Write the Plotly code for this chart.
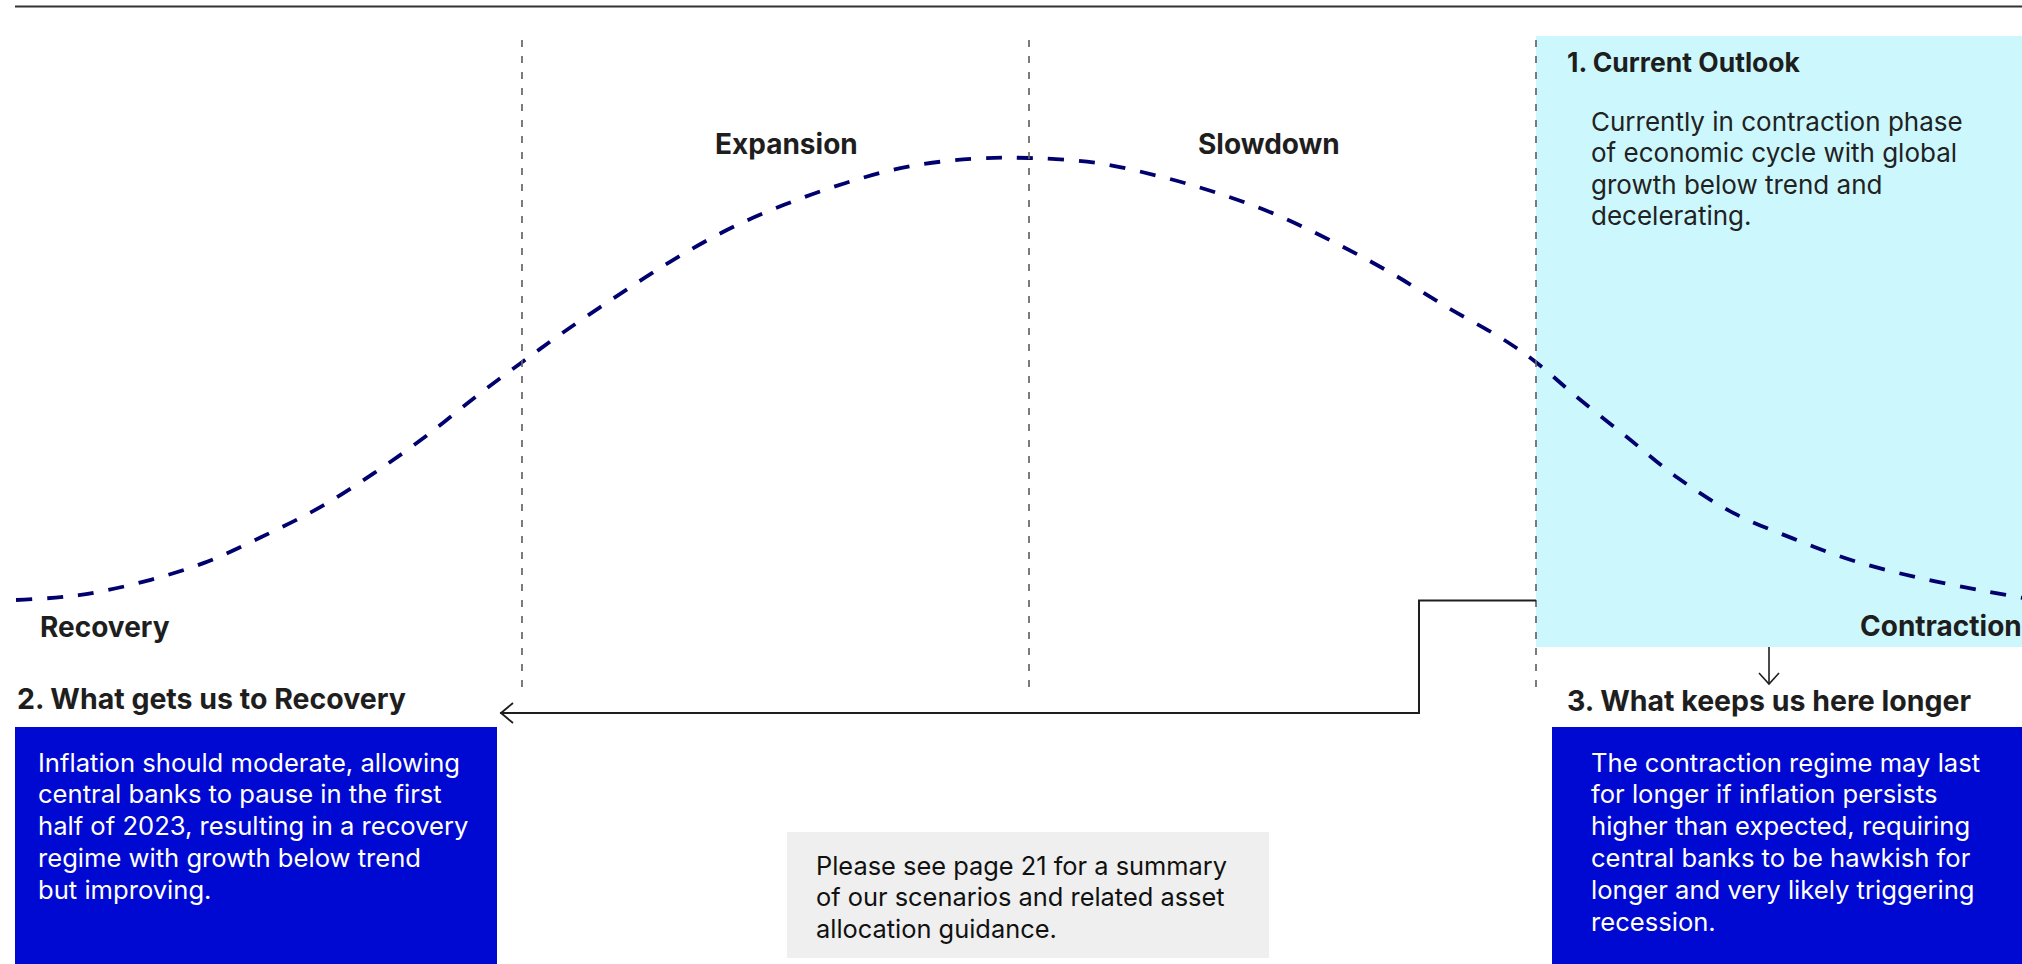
import plotly.graph_objects as go

W, H = 2022, 964

# ---- data -------------------------------------------------------------
phases = ["Recovery", "Expansion", "Slowdown", "Contraction"]
phase_bounds = [1, 2, 3]  # boundaries between phases (phase units)

# stylised business-cycle curve (x: phase units, y: growth index)
cycle_x = [0.002, 0.126, 0.252, 0.373, 0.487, 0.602, 0.708, 0.811, 0.911, 1.000,
           1.077, 1.181, 1.292, 1.404, 1.517, 1.637, 1.759, 1.886, 2.000,
           2.132, 2.256, 2.371, 2.489, 2.604, 2.714, 2.824, 2.935, 3.000,
           3.083, 3.181, 3.280, 3.389, 3.505, 3.623, 3.748, 3.872, 3.959]
cycle_y = [0.000, 0.011, 0.041, 0.084, 0.143, 0.210, 0.287, 0.371, 0.462, 0.538,
           0.602, 0.683, 0.765, 0.837, 0.894, 0.943, 0.980, 0.998, 1.000,
           0.989, 0.959, 0.921, 0.871, 0.808, 0.740, 0.663, 0.590, 0.538,
           0.457, 0.367, 0.276, 0.197, 0.140, 0.090, 0.052, 0.023, 0.005]

outlook_title = "1. Current Outlook"
outlook_text = ["Currently in contraction phase", "of economic cycle with global",
                "growth below trend and", "decelerating."]
recovery_title = "2. What gets us to Recovery"
recovery_text = ["Inflation should moderate, allowing", "central banks to pause in the first",
                 "half of 2023, resulting in a recovery", "regime with growth below trend",
                 "but improving."]
longer_title = "3. What keeps us here longer"
longer_text = ["The contraction regime may last", "for longer if inflation persists",
               "higher than expected, requiring", "central banks to be hawkish for",
               "longer and very likely triggering", "recession."]
note_text = ["Please see page 21 for a summary", "of our scenarios and related asset",
             "allocation guidance."]

# ---- helpers for layout placement (pixel -> paper) --------------------
def P(px):
    return px / W

def Q(py):
    return 1 - py / H

HEAD_FONT = "Inter, Roboto, sans-serif"
BODY_FONT = "Inter, Roboto, sans-serif"
NAVY = "#00006e"
BLUE = "#0009d1"
CYAN = "#ccf8fd"
INK = "#1e1e1e"

fig = go.Figure()
fig.add_trace(go.Scatter(
    x=cycle_x, y=cycle_y, mode="lines",
    line=dict(color=NAVY, width=3.8, dash="16px,15px", shape="spline", smoothing=1.0),
    hoverinfo="skip", showlegend=False, cliponaxis=True,
))

shapes = []
# top rule
shapes.append(dict(type="line", xref="paper", yref="paper", x0=P(15), x1=1, y0=Q(6.5), y1=Q(6.5),
                   line=dict(color="#333333", width=2.2), layer="above"))
# cyan "current" panel
shapes.append(dict(type="rect", xref="paper", yref="paper", x0=P(1536), x1=1.0, y0=Q(647), y1=Q(36),
                   fillcolor=CYAN, line=dict(width=0), layer="below"))
# phase boundaries
for b in phase_bounds:
    shapes.append(dict(type="line", xref="x", yref="paper", x0=b, x1=b, y0=Q(687), y1=Q(38),
                       line=dict(color="#666666", width=1.7, dash="7px,9px"), layer="above"))
# blue boxes
shapes.append(dict(type="rect", xref="paper", yref="paper", x0=P(15), x1=P(497), y0=0, y1=Q(727),
                   fillcolor=BLUE, line=dict(width=0), layer="below"))
shapes.append(dict(type="rect", xref="paper", yref="paper", x0=P(1552), x1=1.0, y0=0, y1=Q(727),
                   fillcolor=BLUE, line=dict(width=0), layer="below"))
# grey note box
shapes.append(dict(type="rect", xref="paper", yref="paper", x0=P(787), x1=P(1269), y0=Q(958), y1=Q(832),
                   fillcolor="#efefef", line=dict(width=0), layer="below"))

def path(points):
    return "M " + " L ".join(f"{P(a):.6f},{Q(b):.6f}" for a, b in points)

# elbow connector from the current panel back to Recovery
shapes.append(dict(type="path", xref="paper", yref="paper",
                   path=path([(1536, 600.5), (1419, 600.5), (1419, 713), (500, 713)]),
                   line=dict(color=INK, width=2), layer="above"))
shapes.append(dict(type="path", xref="paper", yref="paper",
                   path=path([(513, 703), (501, 713), (513, 723)]),
                   line=dict(color=INK, width=1.8), layer="above"))
# down arrow from panel to item 3
shapes.append(dict(type="path", xref="paper", yref="paper",
                   path=path([(1769, 647), (1769, 684)]),
                   line=dict(color=INK, width=1.6), layer="above"))
shapes.append(dict(type="path", xref="paper", yref="paper",
                   path=path([(1759, 673), (1769, 684), (1779, 673)]),
                   line=dict(color=INK, width=1.6), layer="above"))

ann = []
def text(px, py, s, size, color=INK, bold=False, family=HEAD_FONT, xanchor="left"):
    ann.append(dict(xref="paper", yref="paper", x=P(px), y=Q(py), text=(f"<b>{s}</b>" if bold else s),
                    showarrow=False, xanchor=xanchor, yanchor="middle", align="left",
                    borderpad=0, font=dict(family=family, size=size, color=color)))

def block(px, py_first, lines, pitch, size, color, family):
    for i, s in enumerate(lines):
        text(px, py_first + i * pitch, s, size, color=color, family=family)

# phase labels
text(39, 627, phases[0], 28, bold=True)
text(786, 144, phases[1], 28, bold=True, xanchor="center")
text(1269, 144, phases[2], 28, bold=True, xanchor="center")
text(1859, 626, phases[3], 28, bold=True)

# panel texts
text(1566, 62, outlook_title, 26.5, bold=True)
block(1590, 121, outlook_text, 31.6, 26.0, "#222222", HEAD_FONT)
text(16, 698, recovery_title, 28.5, bold=True)
text(1566, 700, longer_title, 28.5, bold=True)
block(37, 762, recovery_text, 31.8, 25.6, "white", BODY_FONT)
block(1590, 762, longer_text, 31.8, 25.6, "white", BODY_FONT)
block(815, 865, note_text, 31.6, 25.4, "#111111", BODY_FONT)

fig.update_layout(
    width=W, height=H, margin=dict(l=0, r=0, t=0, b=0),
    paper_bgcolor="white", plot_bgcolor="rgba(0,0,0,0)",
    xaxis=dict(range=[-15 / 507, 2007 / 507], visible=False, fixedrange=True),
    yaxis=dict(range=[(600 - 964) / 442, 600 / 442], visible=False, fixedrange=True),
    shapes=shapes, annotations=ann, showlegend=False,
)

fig.write_html("out.html", config={"displayModeBar": False},
               post_script="document.body.style.margin='0';document.body.style.overflow='hidden';")
